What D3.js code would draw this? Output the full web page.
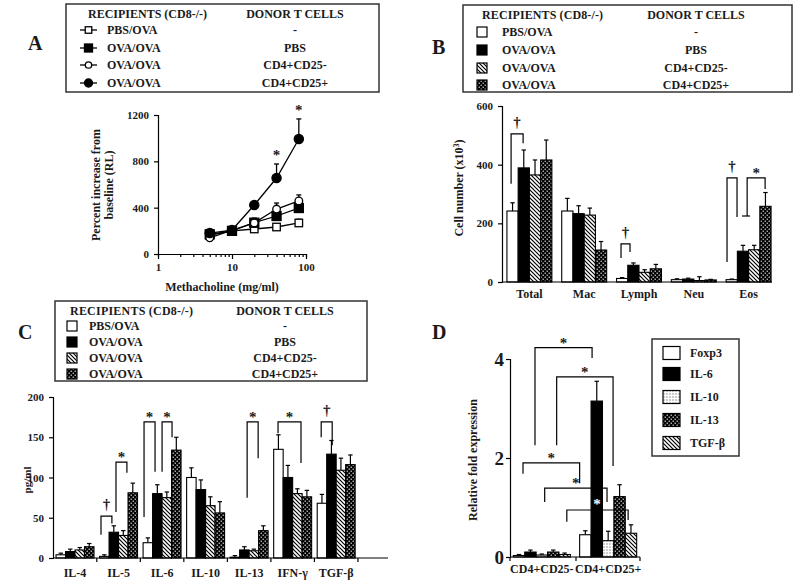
<!DOCTYPE html>
<html><head><meta charset="utf-8">
<script src="https://cdn.jsdelivr.net/npm/d3@7"></script>
<style>
body{margin:0;background:#fff}
svg text{font-family:"Liberation Serif","Times New Roman",serif;font-weight:bold;fill:#1a1a1a}
</style></head>
<body><svg id="c" width="800" height="584"></svg>
<script>
// ---------------- DATA ----------------
const recipients = ["PBS/OVA","OVA/OVA","OVA/OVA","OVA/OVA"];
const donors = ["-","PBS","CD4+CD25-","CD4+CD25+"];

// Panel A: methacholine dose response
const doseA = [5,10,20,40,80];
const aTicksY = [0,400,800,1200];
const aPbsOva     = [160,200,216,233,268];
const aPbsOvaErr  = [10,10,24,27,32];
const aOvaPbs     = [170,200,270,328,397];
const aOvaPbsErr  = [10,10,40,22,33];
const aCd25neg    = [140,205,268,388,458];
const aCd25negErr = [10,10,22,52,52];
const aCd25pos    = [181,207,423,656,993];
const aCd25posErr = [9,8,17,121,173];
const aStarDoses  = [40,80];

// Panel B: BAL cells
const catsB = ["Total","Mac","Lymph","Neu","Eos"];
const bTicksY = [0,200,400,600];
const bPbsOva     = [242,242,12,8,8];
const bPbsOvaErr  = [28,43,3,3,2];
const bOvaPbs     = [389,233,57,10,105];
const bOvaPbsErr  = [61,27,8,3,20];
const bCd25neg    = [365,228,33,5,110];
const bCd25negErr = [51,24,9,13,15];
const bCd25pos    = [416,109,45,7,258];
const bCd25posErr = [68,29,15,2,47];

// Panel C: cytokines
const catsC = ["IL-4","IL-5","IL-6","IL-10","IL-13","IFN-γ","TGF-β"];
const cTicksY = [0,50,100,150,200];
const cPbsOva     = [4,2,19,100,1,135,68];
const cPbsOvaErr  = [2,2,6,12,2,18,11];
const cOvaPbs     = [8,32,80,85,10,100,129];
const cOvaPbsErr  = [3,8,11,12,4,15,17];
const cCd25neg    = [10,28,75,65,9,80,109];
const cCd25negErr = [3,6,7,11,2,6,15];
const cCd25pos    = [14,81,134,56,34,76,116];
const cCd25posErr = [4,12,16,14,6,8,12];

// Panel D: relative fold expression
const catsD = ["CD4+CD25-","CD4+CD25+"];
const genesD = ["Foxp3","IL-6","IL-10","IL-13","TGF-β"];
const dTicksY = [0,2,4];
const dFoxp3 = [0.03,0.45], dFoxp3Err = [0.02,0.08];
const dIl6   = [0.10,3.15], dIl6Err   = [0.04,0.40];
const dIl10  = [0.04,0.33], dIl10Err  = [0.02,0.19];
const dIl13  = [0.10,1.22], dIl13Err  = [0.04,0.24];
const dTgfb  = [0.05,0.48], dTgfbErr  = [0.03,0.17];

// significance brackets: [group, barUnit] ends, value levels
const bracketsB = [
  {l:[0,0.37],r:[0,1.44],yl:335,yr:473,top:505,t:"†"},
  {l:[2,0.40],r:[2,1.20],yl:82,yr:102,top:130,t:"†"},
  {l:[4,0.08],r:[4,0.97],yl:68,yr:222,top:355,t:"†"},
  {l:[4,1.87],r:[4,3.47],yl:225,yr:317,top:355,t:"*",base:[1.41,2.13]}
];
const bracketsC = [
  {l:[1,0.15],r:[1,1.30],yl:29,yr:43,top:52,t:"†"},
  {l:[1,1.73],r:[1,2.88],yl:57,yr:106,top:119,t:"*"},
  {l:[2,0.10],r:[2,1.26],yl:51,yr:107,top:169,t:"*"},
  {l:[2,2.00],r:[2,3.05],yl:107,yr:150,top:169,t:"*"},
  {l:[4,1.79],r:[4,2.95],yl:75,yr:124,top:169,t:"*"},
  {l:[5,0.46],r:[5,2.88],yl:155,yr:118,top:169,t:"*"},
  {l:[6,0.42],r:[6,1.58],yl:150,yr:140,top:169,t:"†"}
];
const bracketsD = [
  {l:[0,1.90],r:[1,1.09],yl:2.26,yr:4.02,top:4.23,t:"*"},
  {l:[0,3.80],r:[1,2.93],yl:2.26,yr:1.84,top:3.64,t:"*"},
  {l:[0,0.85],r:[1,0.00],yl:1.68,yr:1.49,top:1.90,t:"*"},
  {l:[0,2.75],r:[1,2.40],yl:1.11,yr:1.11,top:1.39,t:"*"},
  {l:[0,4.69],r:[1,4.25],yl:0.71,yr:0.75,top:0.95,t:"*",at:[1,1.53,1.09],white:true}
];

// ---------------- DRAWING ----------------
const svg = d3.select("#c");
svg.append("rect").attr("width",800).attr("height",584).attr("fill","#fff");
const defs = svg.append("defs");
(function(){
  let p = defs.append("pattern").attr("id","hatch").attr("patternUnits","userSpaceOnUse").attr("width",4).attr("height",4);
  p.append("rect").attr("width",4).attr("height",4).attr("fill","#fff");
  p.append("path").attr("d","M-1,-1L5,5M-1,3L1,5M3,-1L5,1").attr("stroke","#000").attr("stroke-width",1.2);
  p = defs.append("pattern").attr("id","dotsDark").attr("patternUnits","userSpaceOnUse").attr("width",4).attr("height",4);
  p.append("rect").attr("width",4).attr("height",4).attr("fill","#000");
  p.append("rect").attr("x",0.6).attr("y",0.6).attr("width",1.2).attr("height",1.2).attr("fill","#fff");
  p.append("rect").attr("x",2.6).attr("y",2.6).attr("width",1.2).attr("height",1.2).attr("fill","#fff");
  p = defs.append("pattern").attr("id","dotsLight").attr("patternUnits","userSpaceOnUse").attr("width",3).attr("height",3);
  p.append("rect").attr("width",3).attr("height",3).attr("fill","#fff");
  p.append("rect").attr("x",0.5).attr("y",0.5).attr("width",1).attr("height",1).attr("fill","#333");
})();
const fills4 = ["#fff","#000","url(#hatch)","url(#dotsDark)"];
const fills5 = ["#fff","#000","url(#dotsLight)","url(#dotsDark)","url(#hatch)"];

function txt(x,y,s,size,anchor){
  return svg.append("text").attr("x",x).attr("y",y).text(s).attr("font-size",size).attr("text-anchor",anchor||"start");
}
function styleAxis(sel,fs){
  sel.select(".domain").attr("stroke","#000").attr("stroke-width",1.2);
  sel.selectAll(".tick line").attr("stroke","#000").attr("stroke-width",1.2);
  sel.selectAll(".tick text").attr("font-size",fs).attr("fill","#1a1a1a")
     .style("font-family",'"Liberation Serif","Times New Roman",serif').style("font-weight","bold");
}
const fmtInt = d3.format("d");

// Panel letters
txt(28,50,"A",20); txt(432,54,"B",20); txt(18,339,"C",20); txt(432,339,"D",20);

// ---- legends with table ----
function tableLegend(o){
  svg.append("rect").attr("x",o.x0).attr("y",o.y0).attr("width",o.x1-o.x0).attr("height",o.y1-o.y0)
     .attr("fill","none").attr("stroke","#333").attr("stroke-width",1.5);
  txt(o.hx,o.hy,"RECIPIENTS (CD8-/-)",12).attr("textLength",o.hw).attr("lengthAdjust","spacing");
  txt(o.rc,o.hy,"DONOR T CELLS",12,"middle");
  recipients.forEach((r,i)=>{
    const cy = o.rows[i];
    txt(o.tx,cy+4,r,12);
    txt(o.rc,cy+4,donors[i],12,"middle");
    o.sym(i,cy);
  });
}
const markerA = [
  {shape:"sq",fill:"#fff",s:6.5},{shape:"sq",fill:"#000",s:8},
  {shape:"ci",fill:"#fff",s:3.2},{shape:"ci",fill:"#000",s:4}
];
function marker(g,m,cx,cy){
  if(m.shape==="sq") g.append("rect").attr("x",cx-m.s/2).attr("y",cy-m.s/2).attr("width",m.s).attr("height",m.s)
     .attr("fill",m.fill).attr("stroke","#000").attr("stroke-width",1.3);
  else g.append("circle").attr("cx",cx).attr("cy",cy).attr("r",m.s).attr("fill",m.fill).attr("stroke","#000").attr("stroke-width",1.3);
}
tableLegend({x0:66,y0:4,x1:379,y1:92,hx:88,hy:18,hw:119,rc:295,tx:107,rows:[30,48,65,83],
  sym:(i,cy)=>{
    svg.append("line").attr("x1",80).attr("x2",97).attr("y1",cy).attr("y2",cy).attr("stroke","#000").attr("stroke-width",1.3);
    marker(svg,markerA[i],88.5,cy);
  }});
tableLegend({x0:463,y0:5,x1:792,y1:92,hx:482,hy:19,hw:121,rc:696,tx:502,rows:[32,50,68,85],
  sym:(i,cy)=>{ svg.append("rect").attr("x",477).attr("y",cy-5).attr("width",10).attr("height",10)
     .attr("fill",fills4[i]).attr("stroke","#000").attr("stroke-width",1.2); }});
tableLegend({x0:55,y0:301,x1:367,y1:381,hx:70,hy:315,hw:123,rc:285,tx:89,rows:[326,342,358,374],
  sym:(i,cy)=>{ svg.append("rect").attr("x",67).attr("y",cy-5).attr("width",10).attr("height",10)
     .attr("fill",fills4[i]).attr("stroke","#000").attr("stroke-width",1.2); }});

// ---- Panel A ----
(function(){
  const x = d3.scaleLog().domain([1,100]).range([158,306]);
  const y = d3.scaleLinear().domain([0,1200]).range([254,115]);
  const g = svg.append("g");
  const minor = [];
  for(const d of [1,10]) for(let k=1;k<10;k++) minor.push(d*k);
  minor.push(100);
  const xa = g.append("g").attr("transform","translate(0,254)")
    .call(d3.axisBottom(x).tickValues(minor).tickSize(3).tickPadding(6)
      .tickFormat(d=>([1,10,100].includes(d)?String(d):"")));
  styleAxis(xa,11);
  xa.selectAll(".tick line").filter(d=>[1,10,100].includes(d)).attr("y2",5);
  const ya = g.append("g").attr("transform","translate(158,0)")
    .call(d3.axisLeft(y).tickValues(aTicksY).tickSize(4).tickPadding(5).tickFormat(fmtInt));
  styleAxis(ya,11);
  const series = [
    [aPbsOva,aPbsOvaErr,markerA[0]],[aOvaPbs,aOvaPbsErr,markerA[1]],
    [aCd25neg,aCd25negErr,markerA[2]],[aCd25pos,aCd25posErr,markerA[3]]
  ];
  const line = d3.line().x((d,i)=>x(doseA[i])).y(d=>y(d));
  series.forEach(([v,e,m])=>{
    g.append("path").attr("d",line(v)).attr("fill","none").attr("stroke","#000").attr("stroke-width",1.3);
    v.forEach((d,i)=>{
      const cx = x(doseA[i]);
      g.append("line").attr("x1",cx).attr("x2",cx).attr("y1",y(d)).attr("y2",y(d+e[i])).attr("stroke","#000").attr("stroke-width",1.3);
      g.append("line").attr("x1",cx-2.5).attr("x2",cx+2.5).attr("y1",y(d+e[i])).attr("y2",y(d+e[i])).attr("stroke","#000").attr("stroke-width",1.3);
    });
  });
  series.forEach(([v,e,m])=>{
    const mm = Object.assign({},m); mm.s = m.shape==="sq"? (m.fill==="#000"?9:7.5) : (m.fill==="#000"?4.6:3.8);
    v.forEach((d,i)=>marker(g,mm,x(doseA[i]),y(d)));
  });
  aStarDoses.forEach(dv=>{
    const i = doseA.indexOf(dv);
    txt(x(dv),y(aCd25pos[i]+aCd25posErr[i])-4,"*",15,"middle");
  });
  txt(222,291,"Methacholine (mg/ml)",12,"middle");
  txt(0,0,"Percent increase from",12,"middle").attr("transform","translate(100,185) rotate(-90)");
  txt(0,0,"baseline (RL)",12,"middle").attr("transform","translate(113,185) rotate(-90)");
})();

// ---- Generic grouped bars ----
function barPanel(o){
  const g = svg.append("g");
  const x = d3.scaleBand().domain(o.cats).range(o.xr).paddingInner(o.pi).paddingOuter(o.po);
  const xs = d3.scaleBand().domain(d3.range(o.series.length)).range([0,x.bandwidth()]);
  const y = d3.scaleLinear().domain(o.yd).range(o.yr);
  const bw = xs.bandwidth();
  const rows = [];
  o.series.forEach((vals,si)=>vals.forEach((v,ci)=>rows.push({si,ci,v,e:o.errs[si][ci]})));
  const bx = d=>x(o.cats[d.ci])+xs(d.si);
  g.selectAll(".eb").data(rows).join("line").attr("class","eb")
    .attr("x1",d=>bx(d)+bw/2).attr("x2",d=>bx(d)+bw/2).attr("y1",d=>y(d.v)).attr("y2",d=>y(d.v+d.e))
    .attr("stroke","#000").attr("stroke-width",1.2);
  g.selectAll(".ec").data(rows).join("line").attr("class","ec")
    .attr("x1",d=>bx(d)+bw/2-2.2).attr("x2",d=>bx(d)+bw/2+2.2).attr("y1",d=>y(d.v+d.e)).attr("y2",d=>y(d.v+d.e))
    .attr("stroke","#000").attr("stroke-width",1.2);
  g.selectAll(".bar").data(rows).join("rect").attr("class","bar")
    .attr("x",bx).attr("y",d=>y(d.v)).attr("width",bw).attr("height",d=>y(0)-y(d.v))
    .attr("fill",d=>o.fills[d.si]).attr("stroke","#000").attr("stroke-width",1.1);
  const ya = g.append("g").attr("transform",`translate(${o.xr[0]},0)`)
    .call(d3.axisLeft(y).tickValues(o.yticks).tickSize(4).tickPadding(o.tp||5).tickFormat(fmtInt));
  styleAxis(ya,o.yfs||11);
  const xa = g.append("g").attr("transform",`translate(0,${y(0)})`)
    .call(d3.axisBottom(x).tickSize(0).tickPadding(o.xpad||10));
  styleAxis(xa,12);
  xa.select(".domain").remove();
  g.append("line").attr("x1",o.xr[0]).attr("x2",o.axisEnd).attr("y1",y(0)).attr("y2",y(0)).attr("stroke","#000").attr("stroke-width",1.2);
  if(o.bticks){
    const step = x.step();
    o.cats.forEach((c,i)=>{
      const bxp = x(c)+x.bandwidth()+ (step-x.bandwidth())/2;
      g.append("line").attr("x1",bxp).attr("x2",bxp).attr("y1",y(0)).attr("y2",y(0)+4).attr("stroke","#000").attr("stroke-width",1.2);
    });
  }
  const px = p=>x(o.cats[p[0]])+p[1]*bw;
  (o.brackets||[]).forEach(b=>{
    const xl = px(b.l), xr = px(b.r);
    g.append("path").attr("d",`M${xl},${y(b.yl)}V${y(b.top)}H${xr}V${y(b.yr)}`)
      .attr("fill","none").attr("stroke","#000").attr("stroke-width",1.2);
    if(b.base){
      const gi = b.l[0];
      g.append("line").attr("x1",px([gi,b.base[0]])).attr("x2",px([gi,b.base[1]]))
        .attr("y1",y(b.yl)).attr("y2",y(b.yl)).attr("stroke","#000").attr("stroke-width",1.2);
    }
    let tx = (xl+xr)/2, ty = y(b.top) - (b.t==="†"?7:0);
    if(b.at){ tx = px([b.at[0],b.at[1]]); ty = y(b.at[2])+6; }
    const t = txt(tx,ty,b.t,15,"middle");
    if(b.white) t.style("fill","#fff");
  });
  return {g,x,y};
}

// ---- Panel B ----
barPanel({cats:catsB,xr:[502,776],pi:0.18,po:0.09,yd:[0,600],yr:[282,106],yticks:bTicksY,
  series:[bPbsOva,bOvaPbs,bCd25neg,bCd25pos],errs:[bPbsOvaErr,bOvaPbsErr,bCd25negErr,bCd25posErr],
  fills:fills4,axisEnd:772,brackets:bracketsB,xpad:7});
(function(){
  const t = txt(0,0,"Cell number (x10",12,"middle").attr("transform","translate(463,188) rotate(-90)");
  t.append("tspan").attr("font-size",8).attr("dy",-4).text("3");
  t.append("tspan").attr("dy",4).text(")");
})();

// ---- Panel C ----
barPanel({cats:catsC,xr:[53,358.2],pi:0.128,po:0.07,yd:[0,200],yr:[558,397],yticks:cTicksY,
  series:[cPbsOva,cOvaPbs,cCd25neg,cCd25pos],errs:[cPbsOvaErr,cOvaPbsErr,cCd25negErr,cCd25posErr],
  fills:fills4,axisEnd:388,brackets:bracketsC,bticks:true,xpad:10});
txt(0,0,"pg/ml",11,"middle").attr("transform","translate(31,480) rotate(-90)");

// ---- Panel D ----
(function(){
  barPanel({cats:catsD,xr:[510,640],pi:0.14,po:0.05,yd:[0,4],yr:[557,359],yticks:dTicksY,
    series:[dFoxp3,dIl6,dIl10,dIl13,dTgfb],errs:[dFoxp3Err,dIl6Err,dIl10Err,dIl13Err,dTgfbErr],
    fills:fills5,axisEnd:640,brackets:bracketsD,yfs:19,tp:2,xpad:7});
  [510,576,640].forEach(xx=>svg.append("line").attr("x1",xx).attr("x2",xx).attr("y1",557).attr("y2",561)
     .attr("stroke","#000").attr("stroke-width",1.2));
  txt(0,0,"Relative fold expression",12,"middle").attr("transform","translate(477,460) rotate(-90)");
  svg.append("rect").attr("x",652).attr("y",339).attr("width",87).attr("height",117)
     .attr("fill","none").attr("stroke","#333").attr("stroke-width",1.5);
  const rowsY = [353,374,397,420,443];
  genesD.forEach((gname,i)=>{
    svg.append("rect").attr("x",663).attr("y",rowsY[i]-6.5).attr("width",17).attr("height",13)
      .attr("fill",fills5[i]).attr("stroke","#000").attr("stroke-width",1.2);
    txt(690,rowsY[i]+4,gname,12);
  });
})();
</script></body></html>
